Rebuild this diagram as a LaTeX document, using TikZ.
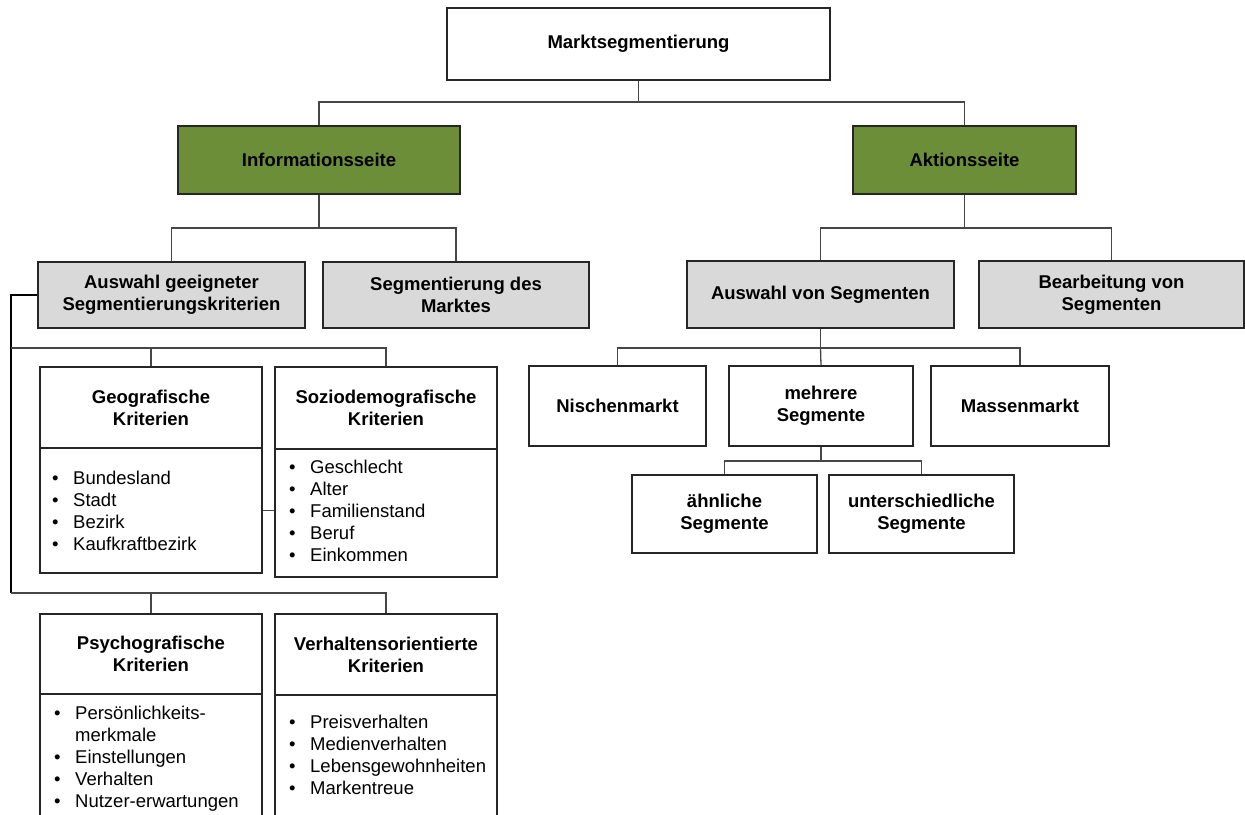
\documentclass[tikz,border=0pt]{standalone}
\usepackage{fontspec}
\setmainfont{Liberation Sans}
\usepackage{tikz}

\definecolor{gruen}{RGB}{108,142,57}
\definecolor{grau}{RGB}{217,217,217}
\definecolor{linie}{RGB}{70,70,70}

\tikzset{
 kasten/.style={draw=black!85,line width=1.6pt,fill=white,align=center,inner sep=0pt,
  font=\fontsize{18.5}{22}\selectfont\bfseries},
 gruenkasten/.style={kasten,fill=gruen},
 graukasten/.style={kasten,fill=grau},
 liste/.style={anchor=north west,inner sep=0pt,font=\fontsize{18.5}{22}\selectfont},
 ast/.style={draw=linie,line width=1.3pt},
}

\begin{document}
\begin{tikzpicture}[x=1pt,y=-1pt]
 \useasboundingbox (0,0) rectangle (1245,814); % Rahmen

 \coordinate (b1) at (0,102); % Ebene 1
 \coordinate (b2) at (0,228); % Ebene 2
 \coordinate (b3) at (0,348); % Ebene 3
 \coordinate (b4) at (0,593); % Ebene 4
 \coordinate (b5) at (0,461); % Ebene 5
 \coordinate (lx) at (11,0); % linke Leitung

 % Kästen oben
 \node[kasten,minimum width=383,minimum height=72] (mseg) at (638.5,44) {Marktsegmentierung};
 \node[gruenkasten,minimum width=282,minimum height=68] (info) at (319,160) {Informationsseite};
 \node[gruenkasten,minimum width=223,minimum height=68] (akt) at (964.5,160) {Aktionsseite};

 \node[graukasten,minimum width=267,minimum height=66] (auswahl) at (171.5,295) {Auswahl geeigneter\\Segmentierungskriterien};
 \node[graukasten,minimum width=266,minimum height=66] (segm) at (456,295) {Segmentierung des\\Marktes};
 \node[graukasten,minimum width=267,minimum height=67] (auswseg) at (820.5,294.5) {Auswahl von Segmenten};
 \node[graukasten,minimum width=265,minimum height=67] (bearb) at (1111.5,294.5) {Bearbeitung von\\Segmenten};

 % Aktionsseite unten
 \node[kasten,minimum width=177,minimum height=80] (nische) at (617.5,406) {Nischenmarkt};
 \node[kasten,minimum width=184,minimum height=80] (mehrere) at (821,406) {mehrere\\Segmente};
 \node[kasten,minimum width=178,minimum height=80] (masse) at (1020,406) {Massenmarkt};
 \node[kasten,minimum width=185,minimum height=78] (aehnl) at (724.5,514) {ähnliche\\Segmente};
 \node[kasten,minimum width=185,minimum height=78] (untersch) at (921.5,514) {unterschiedliche\\Segmente};

 % Kriterien
 \node[kasten,minimum width=222,minimum height=81] (geokopf) at (151,407.5) {Geografische\\Kriterien};
 \node[kasten,minimum width=222,minimum height=125] (geoliste) at (151,510.5) {};
 \node[kasten,minimum width=222,minimum height=82] (soziokopf) at (386,408) {Soziodemografische\\Kriterien};
 \node[kasten,minimum width=222,minimum height=128] (sozioliste) at (386,513) {};
 \node[kasten,minimum width=222,minimum height=80] (psykopf) at (151,654) {Psychografische\\Kriterien};
 \node[kasten,minimum width=222,minimum height=128] (psyliste) at (151,758) {};
 \node[kasten,minimum width=222,minimum height=81] (verhkopf) at (386,654.5) {Verhaltensorientierte\\Kriterien};
 \node[kasten,minimum width=222,minimum height=128] (verhliste) at (386,759) {};

 % Aufzählungen
 \node[liste] (geotxt) at (52,468.5) {\begin{tabular}{@{}p{21pt}@{}l@{}}
  \textbullet & Bundesland\\ \textbullet & Stadt\\ \textbullet & Bezirk\\ \textbullet & Kaufkraftbezirk
 \end{tabular}};
 \node[liste] (soziotxt) at (289,458) {\begin{tabular}{@{}p{21pt}@{}l@{}}
  \textbullet & Geschlecht\\ \textbullet & Alter\\ \textbullet & Familienstand\\ \textbullet & Beruf\\ \textbullet & Einkommen
 \end{tabular}};
 \node[liste] (psytxt) at (54,704) {\begin{tabular}{@{}p{21pt}@{}l@{}}
  \textbullet & Persönlichkeits-\\ & merkmale\\ \textbullet & Einstellungen\\ \textbullet & Verhalten\\ \textbullet & Nutzer-erwartungen
 \end{tabular}};
 \node[liste] (verhtxt) at (289,713) {\begin{tabular}{@{}p{21pt}@{}l@{}}
  \textbullet & Preisverhalten\\ \textbullet & Medienverhalten\\ \textbullet & Lebensgewohnheiten\\ \textbullet & Markentreue
 \end{tabular}};

 % Verbindungen
 \draw[ast] (mseg.south) -- (mseg.south |- b1) -| (info.north); % links
 \draw[ast] (mseg.south |- b1) -| (akt.north); % rechts
 \draw[ast] (info.south) -- (info.south |- b2) -| (auswahl.north);
 \draw[ast] (info.south |- b2) -| (segm.north);
 \draw[ast] (akt.south) -- (akt.south |- b2) -| (auswseg.north);
 \draw[ast] (akt.south |- b2) -| (bearb.north);
 \draw[ast] (auswseg.south) -- (auswseg.south |- b3) -| (nische.north);
 \draw[ast] (auswseg.south |- b3) -| (masse.north);
 \draw[ast] (auswseg.south |- b3) -- (mehrere.north);
 \draw[ast] (mehrere.south) -- (mehrere.south |- b5) -| (aehnl.north);
 \draw[ast] (mehrere.south |- b5) -| (untersch.north);

 \draw[ast,draw=black,line width=1.8pt] (auswahl.west) -- (auswahl.west -| lx) -- (lx |- b4); % linke Leitung
 \draw[ast] (lx |- b3) -| (geokopf.north);
 \draw[ast] (geokopf.north |- b3) -| (soziokopf.north);
 \draw[ast] (lx |- b4) -| (psykopf.north);
 \draw[ast] (psykopf.north |- b4) -| (verhkopf.north);
 \draw[ast,line width=1pt] (geoliste.east) -- (geoliste.east -| sozioliste.west); % Querverbindung
\end{tikzpicture}
\end{document}
